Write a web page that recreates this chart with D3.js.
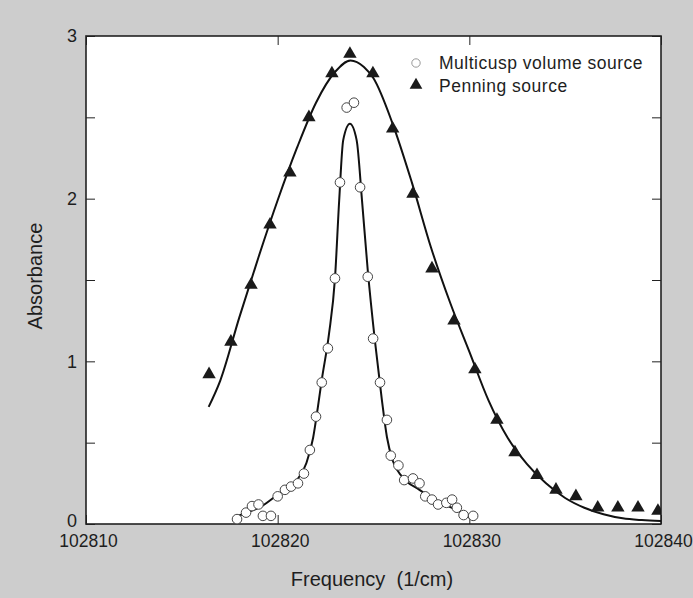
<!DOCTYPE html>
<html>
<head>
<meta charset="utf-8">
<script src="https://cdn.jsdelivr.net/npm/d3@7"></script>
<style>
  html, body { margin: 0; padding: 0; background: #cdcdcd; }
  svg { display: block; }
  text { font-family: 'Liberation Sans', Arial, Helvetica, sans-serif; fill: #1e1e1e; }
</style>
</head>
<body>
<svg id="chart"></svg>
<script>
// Penning source (filled triangles)
const penningFreq = [102816.42, 102817.56, 102818.61, 102819.6, 102820.64, 102821.63, 102822.83,
  102823.77, 102824.97, 102826.0, 102827.06, 102828.05, 102829.2, 102830.29, 102831.44,
  102832.38, 102833.53, 102834.52, 102835.56, 102836.7, 102837.75, 102838.8, 102839.84];
const penningAbs = [0.92, 1.12, 1.47, 1.84, 2.16, 2.5, 2.77, 2.89, 2.77, 2.43, 2.03, 1.57, 1.25,
  0.95, 0.64, 0.44, 0.3, 0.21, 0.17, 0.1, 0.1, 0.1, 0.08];

// Multicusp volume source (open circles)
const multicuspFreq = [102817.88, 102818.35, 102818.66, 102819.0, 102819.23, 102819.65, 102820.0,
  102820.38, 102820.7, 102821.06, 102821.37, 102821.68, 102822.0, 102822.3, 102822.62,
  102822.99, 102823.25, 102823.6, 102823.98, 102824.3, 102824.7, 102824.98, 102825.34,
  102825.7, 102825.9, 102826.3, 102826.6, 102827.06, 102827.4, 102827.7, 102828.05,
  102828.37, 102828.8, 102829.1, 102829.35, 102829.7, 102830.2];
const multicuspAbs = [0.03, 0.07, 0.11, 0.12, 0.05, 0.05, 0.17, 0.21, 0.23, 0.25, 0.31, 0.455,
  0.66, 0.87, 1.08, 1.51, 2.1, 2.56, 2.59, 2.07, 1.52, 1.14, 0.87, 0.64, 0.42, 0.36, 0.27,
  0.28, 0.25, 0.17, 0.15, 0.12, 0.13, 0.15, 0.1, 0.055, 0.05];

// Fitted curves
const penningFitFreq = [102816.4, 102817, 102818, 102819, 102820, 102821, 102822, 102823, 102823.8,
  102824.5, 102825, 102826, 102827, 102828, 102829, 102830, 102831, 102832, 102833, 102834,
  102835, 102836, 102837, 102838, 102839, 102840];
const penningFitAbs = [0.72, 0.88, 1.27, 1.64, 1.99, 2.31, 2.59, 2.78, 2.85, 2.81, 2.74, 2.46,
  2.1, 1.7, 1.36, 1.06, 0.76, 0.53, 0.37, 0.25, 0.16, 0.1, 0.06, 0.035, 0.024, 0.018];

const multicuspFitFreq = [102817.7, 102818.5, 102819.1, 102820.1, 102821.0, 102821.5, 102821.85,
  102822.1, 102822.3, 102822.68, 102822.99, 102823.21, 102823.42, 102823.77, 102824.12,
  102824.4, 102824.7, 102825.07, 102825.44, 102825.7, 102826.0, 102826.5, 102827.4,
  102828.47, 102829.35, 102830.2];
const multicuspFitAbs = [0.04, 0.075, 0.105, 0.19, 0.27, 0.375, 0.53, 0.72, 0.885, 1.17, 1.51,
  1.99, 2.36, 2.46, 2.36, 1.99, 1.56, 1.13, 0.76, 0.535, 0.39, 0.29, 0.21, 0.13, 0.086, 0.025];

const yTicks = [0, 0.5, 1, 1.5, 2, 2.5, 3];
const xTicks = [102810, 102820, 102830, 102840];
const legendLabels = ['Multicusp volume source', 'Penning source'];

const width = 693, height = 598;
const marginLeft = 86, marginRight = 32, marginTop = 36, marginBottom = 74;

const x = d3.scaleLinear([102810, 102840], [marginLeft, width - marginRight]);
const y = d3.scaleLinear([0, 3], [height - marginBottom, marginTop]);

const svg = d3.select('#chart')
  .attr('width', width)
  .attr('height', height)
  .attr('viewBox', [0, 0, width, height]);

// background
svg.append('rect')
  .attr('width', width).attr('height', height)
  .attr('fill', '#cdcdcd');

svg.append('defs').append('clipPath')
  .attr('id', 'plotClip')
  .append('rect')
    .attr('x', x(102810)).attr('y', y(3))
    .attr('width', x(102840) - x(102810))
    .attr('height', y(0) - y(3));

// plot area
svg.append('rect')
  .attr('x', x(102810)).attr('y', y(3))
  .attr('width', x(102840) - x(102810))
  .attr('height', y(0) - y(3))
  .attr('fill', '#ffffff');

const tickLen = 9;

// left axis
svg.append('g')
  .attr('transform', `translate(${x(102810)},0)`)
  .call(d3.axisLeft(y).tickValues(yTicks).tickSizeInner(-tickLen).tickSizeOuter(0).tickPadding(9)
    .tickFormat(d => Number.isInteger(d) ? d : ''))
  .call(g => g.select('.domain').remove())
  .call(g => g.selectAll('.tick line').attr('stroke', '#222'))
  .call(g => g.selectAll('.tick text').attr('font-size', 18).attr('fill', '#1e1e1e')
    .attr('y', d => d === 0 ? -3 : 0));

// right axis ticks
svg.append('g')
  .attr('transform', `translate(${x(102840)},0)`)
  .call(d3.axisRight(y).tickValues(yTicks).tickSizeInner(-tickLen).tickSizeOuter(0).tickFormat(''))
  .call(g => g.select('.domain').remove())
  .call(g => g.selectAll('.tick line').attr('stroke', '#222'));

// bottom axis
svg.append('g')
  .attr('transform', `translate(0,${y(0)})`)
  .call(d3.axisBottom(x).tickValues(xTicks).tickSizeInner(-tickLen).tickSizeOuter(0).tickPadding(11)
    .tickFormat(d3.format('d')))
  .call(g => g.select('.domain').remove())
  .call(g => g.selectAll('.tick line').attr('stroke', '#222'))
  .call(g => g.selectAll('.tick text').attr('font-size', 17.5).attr('dx', 2).attr('fill', '#1e1e1e'));

// top axis ticks
svg.append('g')
  .attr('transform', `translate(0,${y(3)})`)
  .call(d3.axisTop(x).tickValues(xTicks).tickSizeInner(-tickLen).tickSizeOuter(0).tickFormat(''))
  .call(g => g.select('.domain').remove())
  .call(g => g.selectAll('.tick line').attr('stroke', '#222'));

// frame
svg.append('rect')
  .attr('x', x(102810)).attr('y', y(3))
  .attr('width', x(102840) - x(102810))
  .attr('height', y(0) - y(3))
  .attr('fill', 'none')
  .attr('stroke', '#222')
  .attr('stroke-width', 1.6);

const plot = svg.append('g').attr('clip-path', 'url(#plotClip)');

const line = d3.line()
  .x(d => x(d[0]))
  .y(d => y(d[1]))
  .curve(d3.curveMonotoneX);

plot.append('path')
  .datum(d3.zip(penningFitFreq, penningFitAbs))
  .attr('fill', 'none')
  .attr('stroke', '#111')
  .attr('stroke-width', 2)
  .attr('d', line);

plot.append('path')
  .datum(d3.zip(multicuspFitFreq, multicuspFitAbs))
  .attr('fill', 'none')
  .attr('stroke', '#111')
  .attr('stroke-width', 2)
  .attr('d', line);

const tri = d3.symbol(d3.symbolTriangle, 78);

plot.append('g')
  .selectAll('path')
  .data(d3.zip(penningFreq, penningAbs))
  .join('path')
    .attr('transform', d => `translate(${x(d[0])},${y(d[1])})`)
    .attr('d', tri)
    .attr('fill', '#1a1a1a');

plot.append('g')
  .selectAll('circle')
  .data(d3.zip(multicuspFreq, multicuspAbs))
  .join('circle')
    .attr('cx', d => x(d[0]))
    .attr('cy', d => y(d[1]))
    .attr('r', 4.8)
    .attr('fill', '#ffffff')
    .attr('stroke', '#444')
    .attr('stroke-width', 1);

// legend
const legend = svg.append('g').attr('transform', 'translate(416,63)');
legend.append('circle')
  .attr('r', 4.2)
  .attr('fill', '#fff')
  .attr('stroke', '#999')
  .attr('stroke-width', 1);
legend.append('path')
  .attr('transform', 'translate(0,22)')
  .attr('d', d3.symbol(d3.symbolTriangle, 70))
  .attr('fill', '#1a1a1a');
legend.selectAll('text')
  .data(legendLabels)
  .join('text')
    .attr('x', 23)
    .attr('y', (d, i) => i * 23 + 6)
    .attr('font-size', 17.5)
    .attr('letter-spacing', 0.5)
    .text(d => d);

// axis titles
svg.append('text')
  .attr('transform', `translate(42,${(y(0) + y(3)) / 2 - 4}) rotate(-90)`)
  .attr('text-anchor', 'middle')
  .attr('font-size', 20)
  .text('Absorbance');

svg.append('text')
  .attr('x', 372)
  .attr('y', 586)
  .attr('text-anchor', 'middle')
  .attr('font-size', 20)
  .attr('xml:space', 'preserve')
  .style('white-space', 'pre')
  .text('Frequency  (1/cm)');
</script>
</body>
</html>
